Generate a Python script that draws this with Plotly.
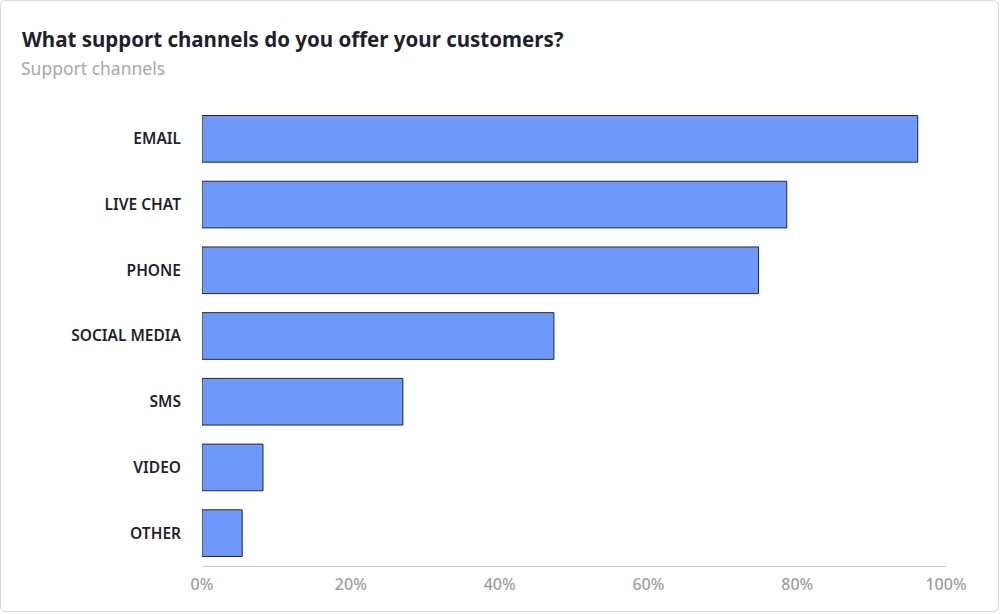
import plotly.graph_objects as go

categories = ["EMAIL", "LIVE CHAT", "PHONE", "SOCIAL MEDIA", "SMS", "VIDEO", "OTHER"]
values = [96.2, 78.6, 74.8, 47.3, 27.0, 8.2, 5.4]
tick_vals = [0, 20, 40, 60, 80, 100]
tick_text = ["0%", "20%", "40%", "60%", "80%", "100%"]

FONT = "Noto Sans"

fig = go.Figure(go.Bar(
    x=values,
    y=categories,
    orientation="h",
    marker=dict(color="#6f98fb", line=dict(color="#262636", width=1)),
    hoverinfo="x+y",
))

W, H = 1000, 614
ml, mr, mt, mb = 202, 54, 106, 48
PW, PH = W - ml - mr, H - mt - mb


def px_x(p):
    return (p - ml) / PW


def px_y(p):
    return 1 - (p - mt) / PH


# rounded card border (pixel positions converted to paper units)
L, R, T, B, r = 0.5, 998.5, 0.5, 611.5, 6
card = (
    f"M {px_x(L + r)},{px_y(T)} L {px_x(R - r)},{px_y(T)} "
    f"Q {px_x(R)},{px_y(T)} {px_x(R)},{px_y(T + r)} "
    f"L {px_x(R)},{px_y(B - r)} Q {px_x(R)},{px_y(B)} {px_x(R - r)},{px_y(B)} "
    f"L {px_x(L + r)},{px_y(B)} Q {px_x(L)},{px_y(B)} {px_x(L)},{px_y(B - r)} "
    f"L {px_x(L)},{px_y(T + r)} Q {px_x(L)},{px_y(T)} {px_x(L + r)},{px_y(T)} Z"
)

fig.update_layout(
    width=W, height=H,
    margin=dict(l=ml, r=mr, t=mt, b=mb),
    paper_bgcolor="white",
    plot_bgcolor="white",
    bargap=0.29,
    showlegend=False,
    font=dict(family=FONT),
    xaxis=dict(
        range=[0, 100],
        tickvals=tick_vals,
        ticktext=tick_text,
        showgrid=False,
        zeroline=False,
        showline=True,
        linecolor="#c8c8c8",
        linewidth=1,
        ticklabelstandoff=4,
        tickfont=dict(size=16, color="#a0a0a0", family=FONT, weight=500),
        ticks="",
        fixedrange=True,
    ),
    yaxis=dict(
        categoryorder="array",
        categoryarray=categories[::-1],
        showgrid=False,
        zeroline=False,
        showline=False,
        ticks="",
        ticklabelstandoff=20,
        tickfont=dict(size=15.5, color="#1f1f2e", family=FONT, weight=600),
        fixedrange=True,
    ),
    annotations=[
        dict(text="<b>What support channels do you offer your customers?</b>",
             xref="paper", yref="paper",
             x=px_x(20), y=px_y(39),
             xanchor="left", yanchor="middle", showarrow=False,
             font=dict(size=20.5, color="#1f1f2e", family=FONT)),
        dict(text="Support channels",
             xref="paper", yref="paper",
             x=px_x(19), y=px_y(68),
             xanchor="left", yanchor="middle", showarrow=False,
             font=dict(size=17.5, color="#a8a8a8", family=FONT)),
    ],
    shapes=[
        dict(type="path", xref="paper", yref="paper", path=card,
             line=dict(color="#d6d6d6", width=1), fillcolor="rgba(0,0,0,0)",
             layer="below"),
    ],
)

fig.write_html(
    "out.html",
    config={"displayModeBar": False},
    post_script="document.body.style.margin='0';document.body.style.overflow='hidden';",
)
